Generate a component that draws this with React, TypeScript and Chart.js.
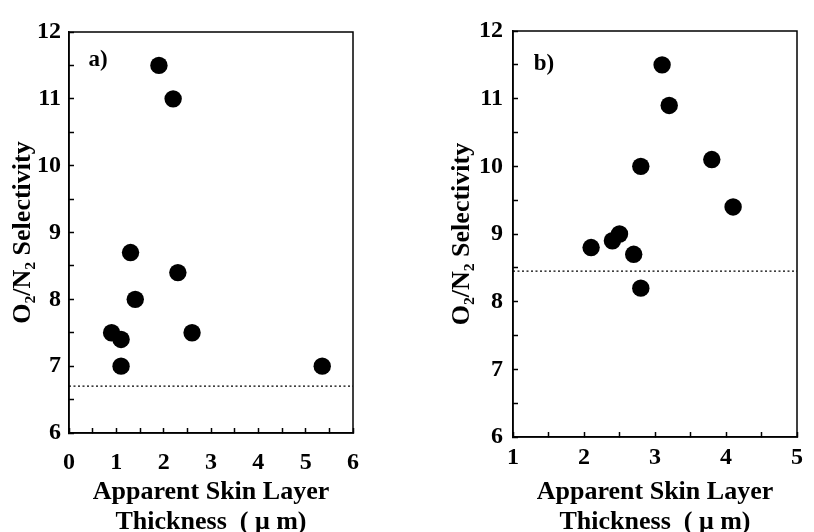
import React, { useEffect, useRef } from "react";
import { Chart, registerables } from "chart.js";

Chart.register(...registerables);

// ---- data ----
const panelAThickness = [1.9, 2.2, 1.3, 2.3, 1.4, 0.9, 1.1, 1.1, 2.6, 5.35];
const panelASelectivity = [11.5, 11.0, 8.7, 8.4, 8.0, 7.5, 7.4, 7.0, 7.5, 7.0];
const panelAReference = 6.7;

const panelBThickness = [3.1, 3.2, 2.8, 3.8, 4.1, 2.1, 2.4, 2.5, 2.7, 2.8];
const panelBSelectivity = [11.5, 10.9, 10.0, 10.1, 9.4, 8.8, 8.9, 9.0, 8.7, 8.2];
const panelBReference = 8.45;

const panelAXRange = [0, 6];
const panelBXRange = [1, 5];
const yRange = [6, 12];

const yTitle = "O₂/N₂ Selectivity";
const xTitle = ["Apparent Skin Layer", "Thickness  ( μ m)"];

const FONT = "'Liberation Serif', 'DejaVu Serif', 'Times New Roman', serif";

type PanelCfg = {
  label: string;
  xs: number[];
  ys: number[];
  ref: number;
  xRange: number[];
  width: number;
  padTop: number;
  padRight: number;
  yAxisWidth: number;
  xAxisHeight: number;
  yTickPad: number;
  xTickPad: number;
  yTitlePad: number;
  labelOffset: [number, number];
};

const boxPlugin = {
  id: "boxPlugin",
  afterDraw(chart: any, _args: any, opts: any) {
    const { ctx, chartArea } = chart;
    ctx.save();
    ctx.strokeStyle = "#000";
    ctx.lineWidth = 1.5;
    ctx.strokeRect(chartArea.left, chartArea.top, chartArea.right - chartArea.left, chartArea.bottom - chartArea.top);
    if (opts && opts.label) {
      ctx.font = `bold 23px ${FONT}`;
      ctx.fillStyle = "#000";
      ctx.textAlign = "center";
      ctx.textBaseline = "middle";
      ctx.fillText(opts.label, chartArea.left + opts.offset[0], chartArea.top + opts.offset[1]);
    }
    ctx.restore();
  },
};

function Panel({ cfg }: { cfg: PanelCfg }) {
  const ref = useRef<HTMLCanvasElement | null>(null);
  useEffect(() => {
    if (!ref.current) return;
    const pts = cfg.xs.map((x, i) => ({ x, y: cfg.ys[i] }));
    const chart = new Chart(ref.current, {
      type: "scatter",
      data: {
        datasets: [
          {
            data: pts,
            backgroundColor: "#000",
            borderColor: "#000",
            borderWidth: 0,
            pointRadius: 8.7,
            pointHoverRadius: 8.7,
          },
          {
            type: "line",
            data: [
              { x: cfg.xRange[0], y: cfg.ref },
              { x: cfg.xRange[1], y: cfg.ref },
            ],
            borderColor: "#000",
            borderWidth: 1.3,
            borderDash: [2, 2.5],
            pointRadius: 0,
            showLine: true,
            fill: false,
          } as any,
        ],
      },
      options: {
        animation: false,
        responsive: false,
        devicePixelRatio: 1,
        layout: { padding: { top: cfg.padTop, right: cfg.padRight, left: 0, bottom: 0 } },
        plugins: {
          legend: { display: false },
          tooltip: { enabled: false },
          boxPlugin: { label: cfg.label, offset: cfg.labelOffset },
        } as any,
        scales: {
          x: {
            type: "linear",
            min: cfg.xRange[0],
            max: cfg.xRange[1],
            afterFit: (s: any) => {
              s.height = cfg.xAxisHeight;
            },
            ticks: {
              stepSize: 0.5,
              autoSkip: false,
              maxRotation: 0,
              padding: cfg.xTickPad,
              color: "#000",
              font: { family: FONT, size: 24, weight: "bold" },
              callback: (v: any) => (Number(v) % 1 === 0 ? String(v) : ""),
            },
            grid: { drawOnChartArea: false, drawTicks: true, tickLength: -5, tickColor: "#000", tickWidth: 1.5 },
            border: { display: true, color: "#000", width: 1.5 },
            title: {
              display: true,
              text: xTitle,
              color: "#000",
              font: { family: FONT, size: 26, weight: "bold", lineHeight: 1.15 },
              padding: { top: 0, bottom: -5 },
            },
          },
          y: {
            type: "linear",
            min: yRange[0],
            max: yRange[1],
            afterFit: (s: any) => {
              s.width = cfg.yAxisWidth;
            },
            ticks: {
              stepSize: 0.5,
              autoSkip: false,
              padding: cfg.yTickPad,
              color: "#000",
              font: { family: FONT, size: 24, weight: "bold" },
              callback: (v: any) => (Number(v) % 1 === 0 ? String(v) : ""),
            },
            grid: { drawOnChartArea: false, drawTicks: true, tickLength: -5, tickColor: "#000", tickWidth: 1.5 },
            border: { display: true, color: "#000", width: 1.5 },
            title: {
              display: true,
              text: yTitle,
              color: "#000",
              font: { family: FONT, size: 26, weight: "bold", lineHeight: 1 },
              padding: { top: cfg.yTitlePad, bottom: 0 },
            },
          },
        },
      },
      plugins: [boxPlugin],
    } as any);
    return () => chart.destroy();
  }, [cfg]);
  return <canvas ref={ref} width={cfg.width} height={532} style={{ display: "block" }} />;
}

const cfgA: PanelCfg = {
  label: "a)",
  xs: panelAThickness,
  ys: panelASelectivity,
  ref: panelAReference,
  xRange: panelAXRange,
  width: 410,
  padTop: 32,
  padRight: 57,
  yAxisWidth: 69,
  xAxisHeight: 99,
  yTickPad: 13,
  xTickPad: 20,
  yTitlePad: 10,
  labelOffset: [29, 28],
};

const cfgB: PanelCfg = {
  label: "b)",
  xs: panelBThickness,
  ys: panelBSelectivity,
  ref: panelBReference,
  xRange: panelBXRange,
  width: 404,
  padTop: 31,
  padRight: 5,
  yAxisWidth: 103,
  xAxisHeight: 95,
  yTickPad: 15,
  xTickPad: 11,
  yTitlePad: 39,
  labelOffset: [31, 33],
};

export default function App() {
  return (
    <div style={{ position: "fixed", left: 0, top: 0, width: 814, height: 532, background: "#fff", display: "flex" }}>
      <Panel cfg={cfgA} />
      <Panel cfg={cfgB} />
    </div>
  );
}
